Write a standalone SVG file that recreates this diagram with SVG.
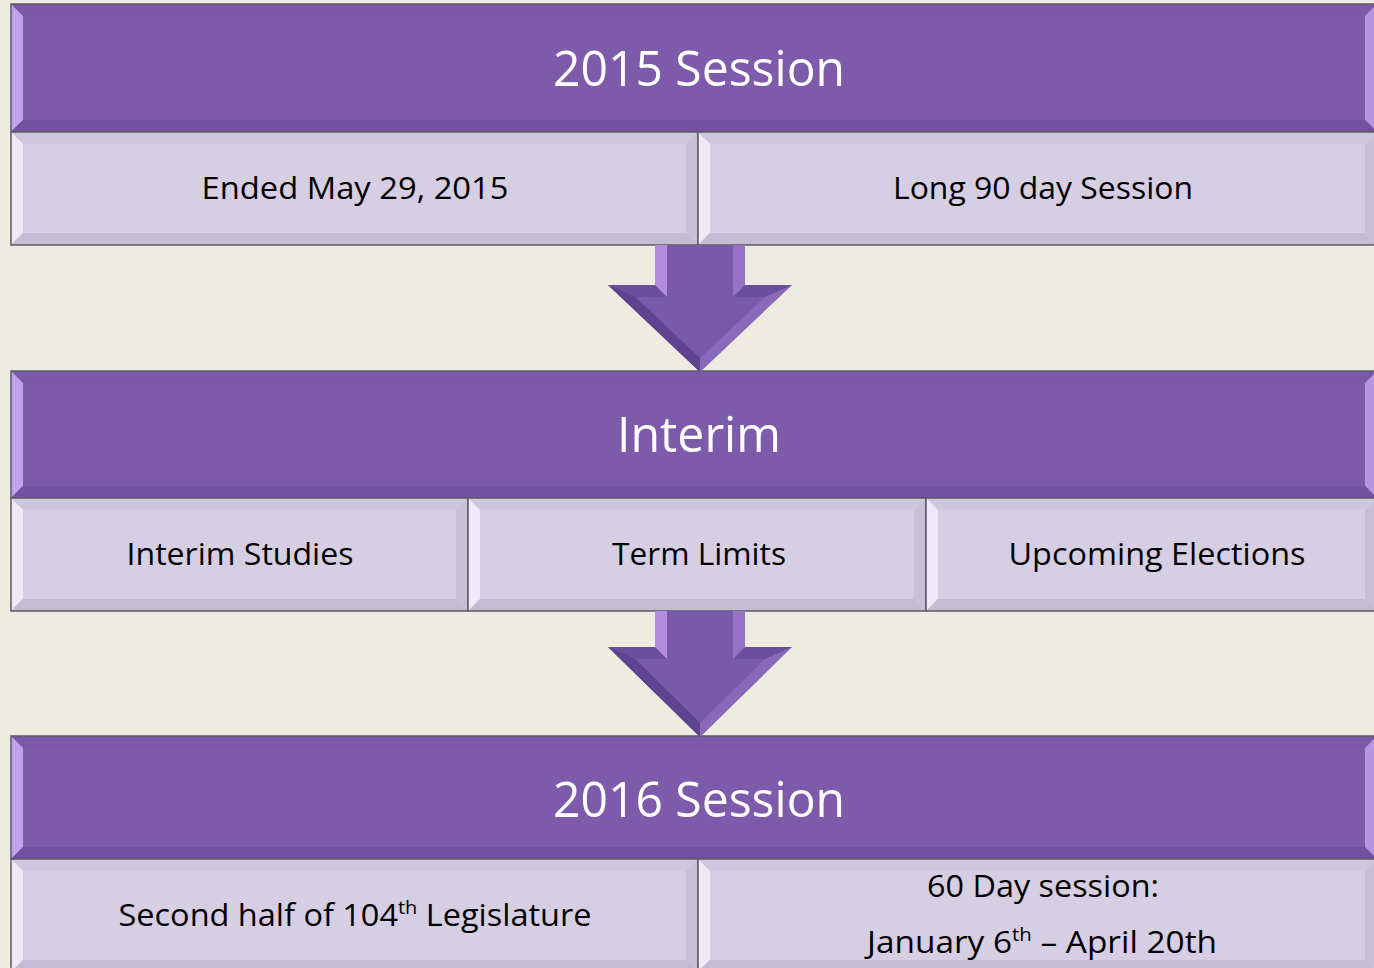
<svg xmlns="http://www.w3.org/2000/svg" width="1374" height="968" viewBox="0 0 1374 968">
<style>
.hd{fill:#7E5BAA}
.hd-t{fill:#7B58A8}
.hd-l{fill:#C3A2EC}
.hd-r{fill:#B595DE}
.hd-b{fill:#7251A0}
.rw{fill:#D6CEE3}
.rw-t{fill:#CFC7DB}
.rw-l{fill:#EEEAF6}
.rw-r{fill:#C8C0D4}
.rw-b{fill:#C4BCD0}
.edge{fill:none;stroke:#5E5A66;stroke-width:1.5}
.ht{font-family:"Open Sans","Noto Sans",sans-serif;font-size:50px;fill:#FFFFFF;text-anchor:middle}
.rt{font-family:"Open Sans","Noto Sans",sans-serif;font-size:31px;fill:#000000;text-anchor:middle}
.sup{font-size:19px}
.ar{fill:#6B4E9C}
.ar-in{fill:#7859AB}
.ar-hl{fill:#B28CE0}
.ar-dk{fill:#5E4390}
</style>
<rect width="1374" height="968" fill="#EEEBE1"/>

<g id="header-2015">
<rect class="hd" x="11" y="4" width="1366" height="128"/>
<polygon class="hd-t" points="11,4 1377,4 1365,16 23,16"/>
<polygon class="hd-l" points="11,4 23,16 23,120 11,132"/>
<polygon class="hd-r" points="1377,4 1377,132 1365,120 1365,16"/>
<polygon class="hd-b" points="11,132 23,120 1365,120 1377,132"/>
<rect class="edge" x="11" y="4" width="1366" height="128"/>
<text class="ht" x="699" y="86" textLength="292" lengthAdjust="spacingAndGlyphs">2015 Session</text>
</g>

<g id="ended">
<rect class="rw" x="11" y="132" width="687" height="113"/>
<polygon class="rw-t" points="11,132 698,132 686,144 23,144"/>
<polygon class="rw-l" points="11,132 23,144 23,233 11,245"/>
<polygon class="rw-r" points="698,132 698,245 686,233 686,144"/>
<polygon class="rw-b" points="11,245 23,233 686,233 698,245"/>
<rect class="edge" x="11" y="132" width="687" height="113"/>
<text class="rt" x="355" y="199" textLength="307" lengthAdjust="spacingAndGlyphs">Ended May 29, 2015</text>
</g>

<g id="long90">
<rect class="rw" x="698" y="132" width="679" height="113"/>
<polygon class="rw-t" points="698,132 1377,132 1365,144 710,144"/>
<polygon class="rw-l" points="698,132 710,144 710,233 698,245"/>
<polygon class="rw-r" points="1377,132 1377,245 1365,233 1365,144"/>
<polygon class="rw-b" points="698,245 710,233 1365,233 1377,245"/>
<rect class="edge" x="698" y="132" width="679" height="113"/>
<text class="rt" x="1043" y="199" textLength="300" lengthAdjust="spacingAndGlyphs">Long 90 day Session</text>
</g>

<g id="header-interim">
<rect class="hd" x="11" y="371" width="1366" height="127"/>
<polygon class="hd-t" points="11,371 1377,371 1365,383 23,383"/>
<polygon class="hd-l" points="11,371 23,383 23,486 11,498"/>
<polygon class="hd-r" points="1377,371 1377,498 1365,486 1365,383"/>
<polygon class="hd-b" points="11,498 23,486 1365,486 1377,498"/>
<rect class="edge" x="11" y="371" width="1366" height="127"/>
<text class="ht" x="699" y="452" textLength="164" lengthAdjust="spacingAndGlyphs">Interim</text>
</g>

<g id="studies">
<rect class="rw" x="11" y="498" width="457" height="113"/>
<polygon class="rw-t" points="11,498 468,498 456,510 23,510"/>
<polygon class="rw-l" points="11,498 23,510 23,599 11,611"/>
<polygon class="rw-r" points="468,498 468,611 456,599 456,510"/>
<polygon class="rw-b" points="11,611 23,599 456,599 468,611"/>
<rect class="edge" x="11" y="498" width="457" height="113"/>
<text class="rt" x="240" y="565" textLength="227" lengthAdjust="spacingAndGlyphs">Interim Studies</text>
</g>

<g id="term-limits">
<rect class="rw" x="468" y="498" width="458" height="113"/>
<polygon class="rw-t" points="468,498 926,498 914,510 480,510"/>
<polygon class="rw-l" points="468,498 480,510 480,599 468,611"/>
<polygon class="rw-r" points="926,498 926,611 914,599 914,510"/>
<polygon class="rw-b" points="468,611 480,599 914,599 926,611"/>
<rect class="edge" x="468" y="498" width="458" height="113"/>
<text class="rt" x="699" y="565" textLength="174" lengthAdjust="spacingAndGlyphs">Term Limits</text>
</g>

<g id="elections">
<rect class="rw" x="926" y="498" width="451" height="113"/>
<polygon class="rw-t" points="926,498 1377,498 1365,510 938,510"/>
<polygon class="rw-l" points="926,498 938,510 938,599 926,611"/>
<polygon class="rw-r" points="1377,498 1377,611 1365,599 1365,510"/>
<polygon class="rw-b" points="926,611 938,599 1365,599 1377,611"/>
<rect class="edge" x="926" y="498" width="451" height="113"/>
<text class="rt" x="1157" y="565" textLength="297" lengthAdjust="spacingAndGlyphs">Upcoming Elections</text>
</g>

<g id="header-2016">
<rect class="hd" x="11" y="736" width="1366" height="123"/>
<polygon class="hd-t" points="11,736 1377,736 1365,748 23,748"/>
<polygon class="hd-l" points="11,736 23,748 23,847 11,859"/>
<polygon class="hd-r" points="1377,736 1377,859 1365,847 1365,748"/>
<polygon class="hd-b" points="11,859 23,847 1365,847 1377,859"/>
<rect class="edge" x="11" y="736" width="1366" height="123"/>
<text class="ht" x="699" y="817" textLength="292" lengthAdjust="spacingAndGlyphs">2016 Session</text>
</g>

<g id="second-half">
<rect class="rw" x="11" y="859" width="687" height="113"/>
<polygon class="rw-t" points="11,859 698,859 686,871 23,871"/>
<polygon class="rw-l" points="11,859 23,871 23,960 11,972"/>
<polygon class="rw-r" points="698,859 698,972 686,960 686,871"/>
<polygon class="rw-b" points="11,972 23,960 686,960 698,972"/>
<rect class="edge" x="11" y="859" width="687" height="113"/>
<text class="rt" x="355" y="926" textLength="473" lengthAdjust="spacingAndGlyphs">Second half of 104<tspan class="sup" dy="-12">th</tspan><tspan dy="12"> Legislature</tspan></text>
</g>

<g id="sixty-day">
<rect class="rw" x="698" y="859" width="679" height="113"/>
<polygon class="rw-t" points="698,859 1377,859 1365,871 710,871"/>
<polygon class="rw-l" points="698,859 710,871 710,960 698,972"/>
<polygon class="rw-r" points="1377,859 1377,972 1365,960 1365,871"/>
<polygon class="rw-b" points="698,972 710,960 1365,960 1377,972"/>
<rect class="edge" x="698" y="859" width="679" height="113"/>
<text class="rt" x="1043" y="897" textLength="232" lengthAdjust="spacingAndGlyphs">60 Day session:</text>
<text class="rt" x="1042" y="953" textLength="350" lengthAdjust="spacingAndGlyphs">January 6<tspan class="sup" dy="-12">th</tspan><tspan dy="12"> – April 20th</tspan></text>
</g>

<g id="connectors">
<g id="arrow-1">
<polygon class="ar" points="655,245 745,245 745,285 792,285 700,372 608,285 655,285"/>
<polygon class="ar-in" points="667,245 733,245 733,297 765,297 700,358 635,297 667,297"/>
<polygon class="ar-hl" points="655,245 667,245 667,297 655,285"/>
<polygon class="ar-hl" opacity="0.6" points="733,245 745,245 745,285 733,297"/>
<polygon class="ar-dk" points="608,285 635,297 700,358 700,372"/>
<polygon class="ar-hl" opacity="0.45" points="765,297 792,285 700,372 700,358"/>
</g>
<g id="arrow-2">
<polygon class="ar" points="655,611 745,611 745,647 792,647 700,737 608,647 655,647"/>
<polygon class="ar-in" points="667,611 733,611 733,659 765,659 700,723 635,659 667,659"/>
<polygon class="ar-hl" points="655,611 667,611 667,659 655,647"/>
<polygon class="ar-hl" opacity="0.6" points="733,611 745,611 745,647 733,659"/>
<polygon class="ar-dk" points="608,647 635,659 700,723 700,737"/>
<polygon class="ar-hl" opacity="0.45" points="765,659 792,647 700,737 700,723"/>
</g>
</g>
</svg>
